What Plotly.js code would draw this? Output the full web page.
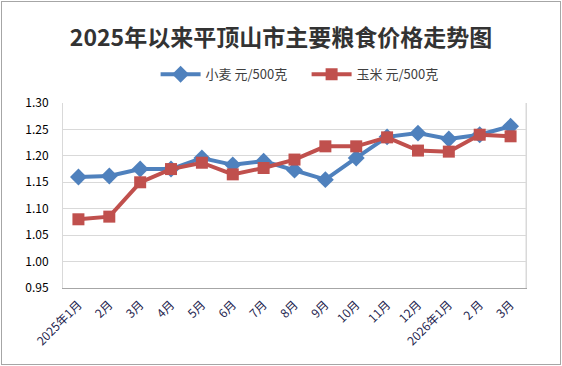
<!DOCTYPE html>
<html><head><meta charset="utf-8">
<script src="https://cdn.plot.ly/plotly-3.0.1.min.js"></script>
<style>html,body{margin:0;padding:0;background:#fff}#c{width:562px;height:366px}
#frame{position:absolute;left:1px;top:1px;width:558px;height:362px;border:1px solid #a6a6a6;pointer-events:none}</style>
</head><body><div id="c"></div><div id="frame"></div>
<script>
const months = ["2025年1月","2月","3月","4月","5月","6月","7月","8月","9月","10月","11月","12月","2026年1月","2 月","3月"];
const wheat = [1.16,1.162,1.175,1.175,1.196,1.183,1.19,1.173,1.155,1.196,1.236,1.243,1.232,1.24,1.256];
const corn = [1.08,1.085,1.15,1.175,1.187,1.165,1.177,1.193,1.218,1.218,1.235,1.21,1.208,1.24,1.237];
const seriesNames = ["小麦 元/500克","玉米 元/500克"];
const F = '"Noto Sans CJK SC", "Noto Sans", sans-serif';
const idx = months.map((_,i)=>i);
const data = [
 {x: idx, y: wheat, name: seriesNames[0], type:'scatter', mode:'lines+markers',
  line:{color:'#4f81bd', width:4}, marker:{symbol:'diamond', size:13, color:'#4f81bd'}},
 {x: idx, y: corn, name: seriesNames[1], type:'scatter', mode:'lines+markers',
  line:{color:'#c0504d', width:4}, marker:{symbol:'square', size:12, color:'#c0504d'}}
];
const layout = {
 width:562, height:366, margin:{l:63, r:36, t:103, b:78},
 paper_bgcolor:'#fff', plot_bgcolor:'#fff',
 title:{text:'2025年以来平顶山市主要粮食价格走势图', x:0.5, xanchor:'center', y:0.895, yanchor:'middle',
  font:{family:F, size:23, color:'#333333', weight:'bold'}},
 showlegend:true,
 legend:{orientation:'h', x:0.2, xanchor:'left', y:1.155, yanchor:'middle', font:{family:F, size:13, color:'#404040'},
  itemwidth:40, entrywidth:96, entrywidthmode:'pixels', traceorder:'normal'},
 xaxis:{range:[-0.5,14.5], tickmode:'array', tickvals:idx, ticktext:months, tickangle:-45,
  showgrid:false, showline:true, linecolor:'#a6a6a6', linewidth:1, mirror:false, ticks:'', zeroline:false,
  ticklabelstandoff:4,
  tickfont:{family:F, size:12, color:'#1f1f4f'}, fixedrange:true},
 yaxis:{range:[0.95,1.30], dtick:0.05, tickformat:'.2f', showgrid:true, gridcolor:'#d9d9d9', gridwidth:1,
  showline:true, linecolor:'#d9d9d9', mirror:true, zeroline:false, ticks:'', ticklen:0,
  ticklabelstandoff:11,
  tickfont:{family:F, size:12, color:'#000'}, automargin:false},
 shapes:[{type:'line', xref:'paper', yref:'paper', x0:1, x1:1, y0:0, y1:1, line:{color:'#d9d9d9', width:1}}]
};
Plotly.newPlot('c', data, layout, {displayModeBar:false, staticPlot:true});
</script></body></html>
